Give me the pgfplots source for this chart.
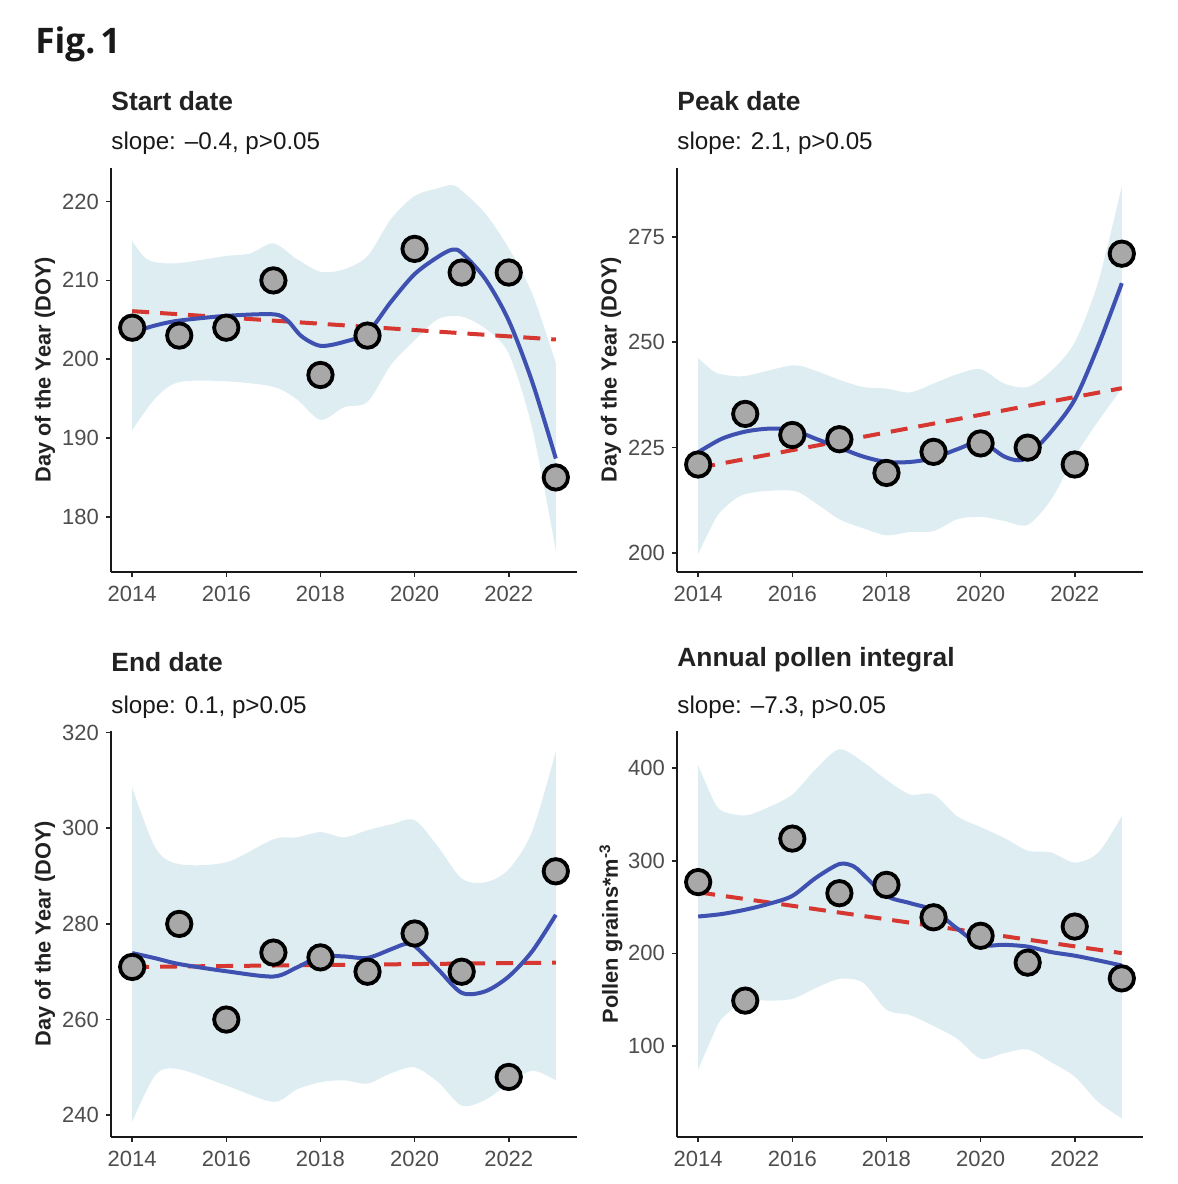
\documentclass[border=0pt]{standalone}
\usepackage{fontspec}
\setmainfont{Liberation Sans}
\newfontfamily\figfont{Open Sans}
\usepackage{pgfplots}
\pgfplotsset{compat=1.18}
\usepgfplotslibrary{fillbetween}
\definecolor{ribbon}{RGB}{222,237,242}
\definecolor{smoothblue}{RGB}{62,80,176}
\definecolor{trendred}{RGB}{214,55,48}
\definecolor{ptgray}{RGB}{168,168,168}
\definecolor{tickgray}{RGB}{77,77,77}
\definecolor{titlecol}{RGB}{34,34,34}
\pgfplotsset{
  panel/.style={
    scale only axis, width=233pt, anchor=south west, clip=false,
    xmin=2013.55, xmax=2023.45,
    xtick={2014,2016,2018,2020,2022},
    axis x line*=bottom, axis y line*=left,
    axis line style={-, line width=1pt, black!90},
    tick align=outside, major tick length=2.6pt,
    tick style={line width=0.8pt, black!85},
    ticklabel style={font=\fontsize{11}{12}\selectfont, color=tickgray},
    xticklabel style={yshift=-0.9pt},
    /pgf/number format/assume math mode=true,
    /pgf/number format/1000 sep={},
  },
  rib/.style={draw=none, smooth, forget plot},
  blueline/.style={smoothblue, line width=2pt, smooth, no marks},
  redline/.style={trendred, line width=2pt, dash pattern=on 8.5pt off 5.5pt, no marks},
  pts/.style={only marks, mark=*, mark size=6.1pt, mark options={fill=ptgray, draw=black, line width=1.9pt}},
}
\begin{document}
\begin{tikzpicture}
\path (0,0) rectangle (589pt,-592pt);
\node[anchor=base west, inner sep=0, font=\figfont\bfseries\fontsize{17.6}{20}\selectfont, text=black!90] at (17.5pt,-26.7pt) {Fig.\hspace{0.14em}1};
% titles
\node[anchor=base west, inner sep=0, font=\bfseries\fontsize{13.2}{15}\selectfont, text=titlecol] at (55.5pt,-55pt) {Start date};
\node[anchor=base west, inner sep=0, font=\fontsize{12.1}{14}\selectfont, text=black!90] at (55.5pt,-74.6pt) {slope: –0.4, p>0.05};
\node[anchor=base west, inner sep=0, font=\bfseries\fontsize{13.2}{15}\selectfont, text=titlecol] at (338.5pt,-55pt) {Peak date};
\node[anchor=base west, inner sep=0, font=\fontsize{12.1}{14}\selectfont, text=black!90] at (338.5pt,-74.6pt) {slope: 2.1, p>0.05};
\node[anchor=base west, inner sep=0, font=\bfseries\fontsize{13.2}{15}\selectfont, text=titlecol] at (55.5pt,-335.5pt) {End date};
\node[anchor=base west, inner sep=0, font=\fontsize{12.1}{14}\selectfont, text=black!90] at (55.5pt,-356.5pt) {slope: 0.1, p>0.05};
\node[anchor=base west, inner sep=0, font=\bfseries\fontsize{13.2}{15}\selectfont, text=titlecol] at (338.5pt,-333pt) {Annual pollen integral};
\node[anchor=base west, inner sep=0, font=\fontsize{12.1}{14}\selectfont, text=black!90] at (338.5pt,-356.5pt) {slope: –7.3, p>0.05};
% y labels
\node[rotate=90, inner sep=0, font=\bfseries\fontsize{10.9}{12}\selectfont, text=titlecol] at (22.5pt,-184.9pt) {Day of the Year (DOY)};
\node[rotate=90, inner sep=0, font=\bfseries\fontsize{10.9}{12}\selectfont, text=titlecol] at (305.5pt,-184.9pt) {Day of the Year (DOY)};
\node[rotate=90, inner sep=0, font=\bfseries\fontsize{10.9}{12}\selectfont, text=titlecol] at (22.5pt,-466.9pt) {Day of the Year (DOY)};
\node[rotate=90, inner sep=0, font=\bfseries\fontsize{10.9}{12}\selectfont, text=titlecol] at (305.5pt,-466.9pt) {Pollen grains*m\textsuperscript{-3}};

% ---------- Start date ----------
\begin{axis}[panel, at={(55.5pt,-286pt)}, height=202.15pt, ymin=173.0, ymax=224.3, ytick={180,190,200,210,220}]
\addplot[rib, name path=su] coordinates {(2014,215.0)(2014.25,213.0)(2014.5,212.3)(2015,212.2)(2016,213.1)(2016.5,213.4)(2017,214.7)(2017.5,212.7)(2018,211.1)(2018.5,211.4)(2019,213.1)(2019.5,217.8)(2020,220.7)(2020.5,221.7)(2020.8,222.1)(2021,221.4)(2021.5,218.5)(2022,214.1)(2022.5,208.3)(2023,199.5)};
\addplot[rib, name path=sl] coordinates {(2014,191.0)(2014.5,195.1)(2015,197.1)(2016,197.2)(2017,196.5)(2017.5,194.9)(2018,192.3)(2018.5,193.9)(2019,194.6)(2019.5,199.3)(2020,202.4)(2020.5,205.1)(2021,205.4)(2021.5,203.9)(2022,200.7)(2022.5,191.2)(2023,175.7)};
\addplot[fill=ribbon, draw=none] fill between[of=su and sl];
\addplot[redline] coordinates {(2014,206.1)(2023,202.5)};
\addplot[blueline] coordinates {(2014,203.4)(2014.5,204.3)(2015,204.9)(2016,205.5)(2017,205.7)(2017.3,204.9)(2017.6,202.9)(2018,201.7)(2018.5,202.2)(2019,203.4)(2019.5,207.3)(2020,210.8)(2020.5,213.0)(2020.8,213.9)(2021,213.5)(2021.5,210.2)(2022,204.9)(2022.5,197.1)(2023,187.4)};
\addplot[pts] coordinates {(2014,204)(2015,203)(2016,204)(2017,210)(2018,198)(2019,203)(2020,214)(2021,211)(2022,211)(2023,185)};
\end{axis}

% ---------- Peak date ----------
\begin{axis}[panel, at={(338.5pt,-286pt)}, height=202.15pt, ymin=195.5, ymax=291.4, ytick={200,225,250,275}]
\addplot[rib, name path=pu] coordinates {(2014,246.2)(2014.3,243.3)(2014.5,242.4)(2015,242.0)(2016,244.5)(2016.5,243.2)(2017,241.1)(2017.5,239.4)(2018,239.0)(2018.5,238.1)(2019,240.2)(2019.5,242.4)(2020,243.6)(2020.5,240.2)(2021,239.4)(2021.5,243.2)(2022,250.0)(2022.5,264.4)(2023,287.0)};
\addplot[rib, name path=pl] coordinates {(2014,199.8)(2014.3,206.7)(2014.5,210.1)(2015,214.0)(2016,214.8)(2016.5,211.8)(2017,208.0)(2017.5,205.9)(2018,204.2)(2018.5,205.0)(2019,205.2)(2019.5,208.0)(2020,208.6)(2020.5,207.6)(2021,206.7)(2021.5,212.7)(2022,222.9)(2022.5,231.3)(2023,239.0)};
\addplot[fill=ribbon, draw=none] fill between[of=pu and pl];
\addplot[redline] coordinates {(2014,220.2)(2023,239.1)};
\addplot[blueline] coordinates {(2014,223.9)(2014.5,227.1)(2015,228.8)(2015.5,229.5)(2016,229.2)(2016.5,227.1)(2017,225.0)(2017.5,222.9)(2018,221.6)(2018.5,221.6)(2019,222.5)(2019.5,224.6)(2020,226.3)(2020.5,222.9)(2020.8,222.0)(2021,222.9)(2021.5,228.8)(2022,236.4)(2022.5,249.2)(2023,264.0)};
\addplot[pts] coordinates {(2014,221)(2015,233)(2016,228)(2017,227)(2018,219)(2019,224)(2020,226)(2021,225)(2022,221)(2023,271)};
\end{axis}

% ---------- End date ----------
\begin{axis}[panel, at={(55.5pt,-568.35pt)}, height=203pt, ymin=235.5, ymax=320.4, ytick={240,260,280,300,320}]
\addplot[rib, name path=eu] coordinates {(2014,308.5)(2014.5,295.8)(2015,292.5)(2016,292.9)(2017,297.7)(2017.5,298.1)(2018,299.2)(2018.5,298.1)(2019,299.6)(2019.5,300.8)(2020,301.7)(2020.5,296.1)(2021,289.5)(2021.5,288.7)(2022,291.4)(2022.5,299.4)(2023,316.1)};
\addplot[rib, name path=el] coordinates {(2014,238.6)(2014.5,248.5)(2015,249.6)(2016,246.2)(2017,242.8)(2017.5,245.4)(2018,246.9)(2018.5,247.3)(2019,246.6)(2019.5,248.8)(2020,250.0)(2020.5,246.9)(2021,242.0)(2021.5,243.2)(2022,246.6)(2022.5,249.3)(2023,247.3)};
\addplot[fill=ribbon, draw=none] fill between[of=eu and el];
\addplot[redline] coordinates {(2014,271.0)(2023,271.9)};
\addplot[blueline] coordinates {(2014,273.9)(2014.5,272.8)(2015,271.6)(2016,270.1)(2017,269.0)(2017.5,270.9)(2018,273.2)(2018.5,273.2)(2019,272.9)(2019.5,274.7)(2019.8,275.8)(2020,275.4)(2020.5,270.5)(2021,265.6)(2021.5,265.9)(2022,269.0)(2022.5,274.3)(2023,281.9)};
\addplot[pts] coordinates {(2014,271)(2015,280)(2016,260)(2017,274)(2018,273)(2019,270)(2020,278)(2021,270)(2022,248)(2023,291)};
\end{axis}

% ---------- Annual pollen integral ----------
\begin{axis}[panel, at={(338.5pt,-568.35pt)}, height=203pt, ymin=2, ymax=440.5, ytick={100,200,300,400}]
\addplot[rib, name path=au] coordinates {(2014,403.1)(2014.3,367.9)(2014.5,354.0)(2015,349.0)(2015.5,358.0)(2016,371.6)(2016.5,399.2)(2017,420.5)(2017.5,406.9)(2018,387.4)(2018.5,371.7)(2019,371.7)(2019.5,348.2)(2020,336.4)(2020.5,324.7)(2021,311.0)(2021.5,309.0)(2022,298.1)(2022.5,309.0)(2023,348.2)};
\addplot[rib, name path=al] coordinates {(2014,74.6)(2014.3,109.8)(2014.5,129.4)(2015,148.9)(2015.5,148.9)(2016,150.9)(2016.5,162.6)(2017,172.4)(2017.5,168.5)(2018,139.2)(2018.5,133.3)(2019,121.6)(2019.5,107.9)(2020,86.4)(2020.5,92.3)(2021,96.2)(2021.5,82.5)(2022,66.9)(2022.5,39.5)(2023,21.9)};
\addplot[fill=ribbon, draw=none] fill between[of=au and al];
\addplot[redline] coordinates {(2014,266.0)(2023,200.3)};
\addplot[blueline] coordinates {(2014,239.8)(2014.5,242.5)(2015,247.2)(2015.5,253.5)(2016,262.1)(2016.5,281.6)(2017,296.5)(2017.3,294.1)(2017.5,285.5)(2018,262.1)(2018.5,254.3)(2019,246.5)(2019.5,226.9)(2020,209.3)(2020.5,209.3)(2021,207.3)(2021.5,201.4)(2022,197.5)(2022.5,192.4)(2023,186.9)};
\addplot[pts] coordinates {(2014,277)(2015,149)(2016,324)(2017,265)(2018,274)(2019,239)(2020,219)(2021,190)(2022,229)(2023,173)};
\end{axis}
\end{tikzpicture}
\end{document}
